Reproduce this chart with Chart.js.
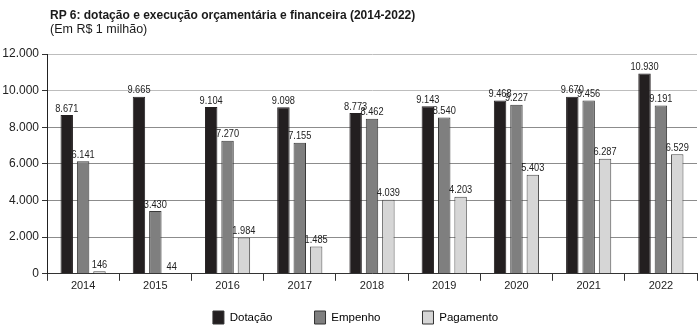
<!DOCTYPE html>
<html>
<head>
<meta charset="utf-8">
<script src="https://cdn.jsdelivr.net/npm/chart.js@4/dist/chart.umd.min.js"></script>
<style>
  html, body { margin: 0; padding: 0; background: #fff; }
  #wrap { position: relative; width: 699px; height: 330px; }
  #titulo { position: absolute; left: 50px; top: 8px; font: bold 12px "Liberation Sans", Arial, sans-serif; color: #1a1a1a; }
  #sub { position: absolute; left: 50px; top: 22px; font: 12.5px "Liberation Sans", Arial, sans-serif; color: #1a1a1a; }
  canvas { position: absolute; left: 0; top: 0; }
</style>
</head>
<body>
<div id="wrap">
  <canvas id="myChart" width="699" height="330"></canvas>
  <div id="titulo">RP 6: dotação e execução orçamentária e financeira (2014-2022)</div>
  <div id="sub">(Em R$ 1 milhão)</div>
</div>
<script>
const anos = ["2014", "2015", "2016", "2017", "2018", "2019", "2020", "2021", "2022"];
const dotacao = [8671, 9665, 9104, 9098, 8773, 9143, 9468, 9670, 10930];
const empenho = [6141, 3430, 7270, 7155, 8462, 8540, 9227, 9456, 9191];
const pagamento = [146, 44, 1984, 1485, 4039, 4203, 5403, 6287, 6529];
const ticksY = [0, 2000, 4000, 6000, 8000, 10000, 12000];

function formatoBR(n) {
  return String(n).replace(/\B(?=(\d{3})+(?!\d))/g, ".");
}

// valores em cima das barras (texto um pouco condensado)
const rotulos = {
  id: "rotulos",
  afterDatasetsDraw(chart) {
    const ctx = chart.ctx;
    const esc = 0.84;
    ctx.save();
    ctx.font = '11px "Liberation Sans", Arial, sans-serif';
    ctx.fillStyle = "#222";
    ctx.textAlign = "center";
    ctx.textBaseline = "bottom";
    ctx.scale(esc, 1);
    chart.data.datasets.forEach((ds, i) => {
      const meta = chart.getDatasetMeta(i);
      meta.data.forEach((bar, j) => {
        ctx.fillText(formatoBR(ds.data[j]), bar.x / esc, bar.y - 1);
      });
    });
    ctx.restore();
  }
};

// legenda: altura fixa e posicao ajustada
const PAD_LEGENDA = 42;
const ajusteLegenda = {
  id: "ajusteLegenda",
  beforeInit(chart) {
    const fitOrig = chart.legend.fit;
    chart.legend.fit = function () {
      fitOrig.call(this);
      this.height = 38;
    };
  },
  afterLayout(chart) {
    const lg = chart.legend;
    lg.top = 311 - PAD_LEGENDA;
    lg.left += 7;
    lg.right += 7;
  }
};

const fonteEixo = { family: '"Liberation Sans", Arial, sans-serif', size: 11 };

const ctx = document.getElementById("myChart");
const myChart = new Chart(ctx, {
  type: "bar",
  data: {
    labels: anos,
    datasets: [
      { label: "Dotação", data: dotacao, backgroundColor: "#231f20", borderColor: "#231f20", borderWidth: 1 },
      { label: "Empenho", data: empenho, backgroundColor: "#7f7f7f", borderColor: "#3a3a3a", borderWidth: 1 },
      { label: "Pagamento", data: pagamento, backgroundColor: "#d6d6d6", borderColor: "#4a4a4a", borderWidth: 1 }
    ]
  },
  options: {
    responsive: false,
    animation: false,
    layout: { padding: { top: 54, right: 2, bottom: 0, left: 0 } },
    datasets: { bar: { categoryPercentage: 0.68, barPercentage: 0.76 } },
    plugins: {
      tooltip: { enabled: false },
      legend: {
        position: "bottom",
        labels: {
          color: "#222",
          font: { family: '"Liberation Sans", Arial, sans-serif', size: 11.5 },
          boxWidth: 11,
          boxHeight: 13,
          padding: PAD_LEGENDA,
          generateLabels(chart) {
            return chart.data.datasets.map((ds, i) => ({
              text: ds.label,
              fillStyle: ds.backgroundColor,
              strokeStyle: "#333",
              lineWidth: 1,
              datasetIndex: i
            }));
          }
        }
      }
    },
    scales: {
      x: {
        grid: { drawOnChartArea: false, drawTicks: true, tickLength: 7, tickColor: "#333", offset: true },
        border: { color: "#333", width: 1 },
        ticks: { color: "#222", font: fonteEixo, padding: -1 }
      },
      y: {
        min: 0,
        max: 12000,
        afterBuildTicks(scale) {
          scale.ticks = ticksY.map(v => ({ value: v }));
        },
        afterFit(scale) {
          scale.width = 47;
        },
        grid: {
          color: c => (c.tick && c.tick.value >= 10000 ? "#bdbdbd" : "#8c8c8c"),
          tickColor: "#333",
          tickLength: 5
        },
        border: { color: "#222", width: 1 },
        ticks: { color: "#222", font: { family: '"Liberation Sans", Arial, sans-serif', size: 12 }, padding: 3, callback: v => formatoBR(v) }
      }
    }
  },
  plugins: [rotulos, ajusteLegenda]
});
</script>
</body>
</html>
